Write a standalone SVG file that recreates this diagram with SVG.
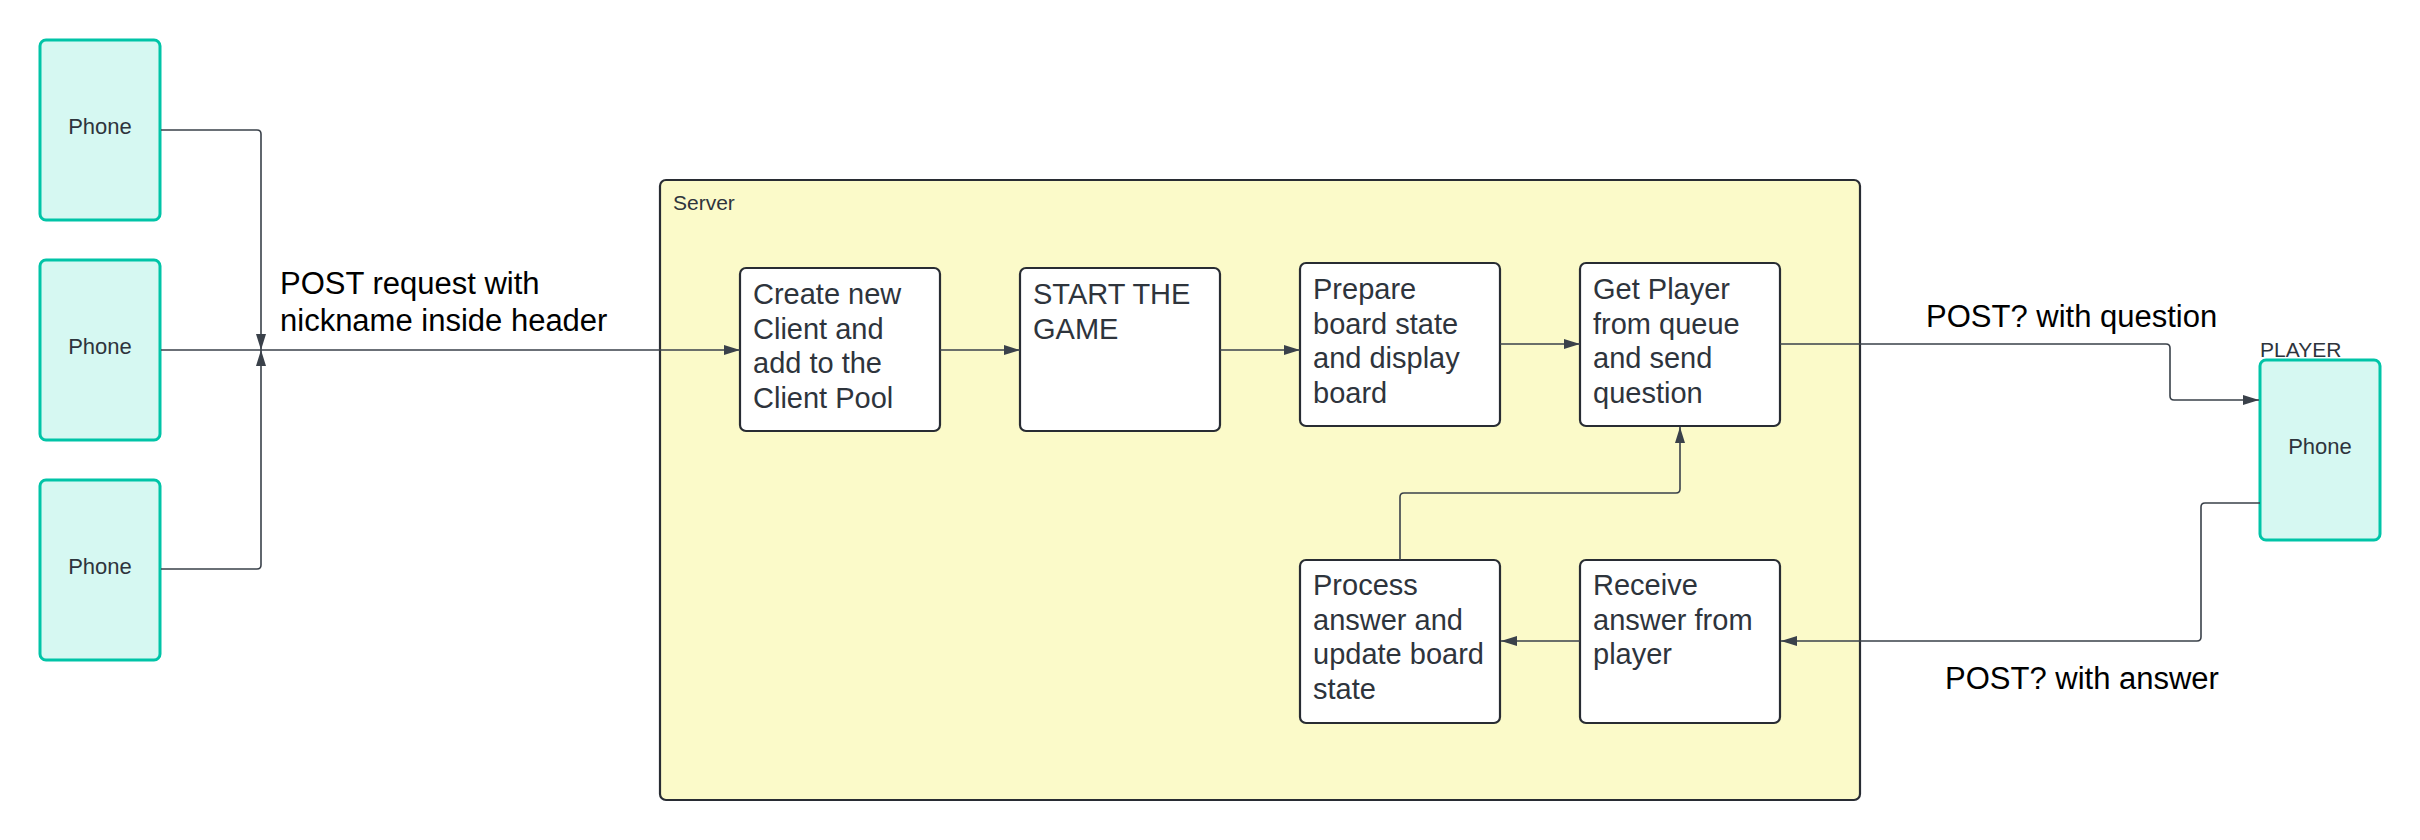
<svg xmlns="http://www.w3.org/2000/svg" width="2420" height="840" viewBox="0 0 2420 840">
<style>
.phone{fill:#d6f8f2;stroke:#00c4a7;stroke-width:3}
.box{fill:#ffffff;stroke:#282c33;stroke-width:2.2}
.server{fill:#fbfac9;stroke:#282c33;stroke-width:2.2}
.ln{fill:none;stroke:#3a414a;stroke-width:1.6}
.t{font-family:"Liberation Sans",Arial,sans-serif;fill:#2e343c}
.pt{font-size:22px;text-anchor:middle}
.bt{font-size:29px}
.lbl{font-family:"Liberation Sans",Arial,sans-serif;font-size:31px;fill:#000}
</style>
<defs>
<marker id="ah" viewBox="0 0 16 10" refX="16" refY="5" markerWidth="16" markerHeight="10" markerUnits="userSpaceOnUse" orient="auto">
<path d="M0,0 L16,5 L0,10 Z" fill="#3a414a"/>
</marker>
</defs>
<rect width="2420" height="840" fill="#ffffff"/>
<g id="server">
<rect class="server" x="660" y="180" width="1200" height="620" rx="6"/>
<text class="t" x="673" y="210" font-size="21">Server</text>
</g>
<g id="phone1">
<rect class="phone" x="40" y="40" width="120" height="180" rx="6"/>
<text class="t pt" x="100" y="134">Phone</text>
</g>
<g id="phone2">
<rect class="phone" x="40" y="260" width="120" height="180" rx="6"/>
<text class="t pt" x="100" y="354">Phone</text>
</g>
<g id="phone3">
<rect class="phone" x="40" y="480" width="120" height="180" rx="6"/>
<text class="t pt" x="100" y="574">Phone</text>
</g>
<g id="player">
<rect class="phone" x="2260" y="360" width="120" height="180" rx="6"/>
<text class="t pt" x="2320" y="454">Phone</text>
<text class="t" x="2260" y="357" font-size="21">PLAYER</text>
</g>
<g id="create">
<rect class="box" x="740" y="268" width="200" height="163" rx="6"/>
<text class="t bt" x="753" y="304"><tspan x="753">Create new</tspan><tspan x="753" dy="34.5">Client and</tspan><tspan x="753" dy="34.5">add to the</tspan><tspan x="753" dy="34.5">Client Pool</tspan></text>
</g>
<g id="start">
<rect class="box" x="1020" y="268" width="200" height="163" rx="6"/>
<text class="t bt" x="1033" y="304"><tspan x="1033">START THE</tspan><tspan x="1033" dy="34.5">GAME</tspan></text>
</g>
<g id="prepare">
<rect class="box" x="1300" y="263" width="200" height="163" rx="6"/>
<text class="t bt" x="1313" y="299"><tspan x="1313">Prepare</tspan><tspan x="1313" dy="34.5">board state</tspan><tspan x="1313" dy="34.5">and display</tspan><tspan x="1313" dy="34.5">board</tspan></text>
</g>
<g id="getplayer">
<rect class="box" x="1580" y="263" width="200" height="163" rx="6"/>
<text class="t bt" x="1593" y="299"><tspan x="1593">Get Player</tspan><tspan x="1593" dy="34.5">from queue</tspan><tspan x="1593" dy="34.5">and send</tspan><tspan x="1593" dy="34.5">question</tspan></text>
</g>
<g id="process">
<rect class="box" x="1300" y="560" width="200" height="163" rx="6"/>
<text class="t bt" x="1313" y="595"><tspan x="1313">Process</tspan><tspan x="1313" dy="34.5">answer and</tspan><tspan x="1313" dy="34.5">update board</tspan><tspan x="1313" dy="34.5">state</tspan></text>
</g>
<g id="receive">
<rect class="box" x="1580" y="560" width="200" height="163" rx="6"/>
<text class="t bt" x="1593" y="595"><tspan x="1593">Receive</tspan><tspan x="1593" dy="34.5">answer from</tspan><tspan x="1593" dy="34.5">player</tspan></text>
</g>
<g id="connectors">
<path class="ln" d="M161,130 H257 Q261,130 261,134 V350" marker-end="url(#ah)"/>
<path class="ln" d="M161,569 H257 Q261,569 261,565 V350" marker-end="url(#ah)"/>
<path class="ln" d="M161,350 H740" marker-end="url(#ah)"/>
<path class="ln" d="M940,350 H1020" marker-end="url(#ah)"/>
<path class="ln" d="M1220,350 H1300" marker-end="url(#ah)"/>
<path class="ln" d="M1500,344 H1580" marker-end="url(#ah)"/>
<path class="ln" d="M1780,344 H2166 Q2170,344 2170,348 V396 Q2170,400 2174,400 H2259" marker-end="url(#ah)"/>
<path class="ln" d="M2260,503 H2205 Q2201,503 2201,507 V637 Q2201,641 2197,641 H1781" marker-end="url(#ah)"/>
<path class="ln" d="M1580,641 H1501" marker-end="url(#ah)"/>
<path class="ln" d="M1400,560 V497 Q1400,493 1404,493 H1676 Q1680,493 1680,489 V427" marker-end="url(#ah)"/>
<text class="lbl" x="280" y="294">POST request with</text>
<text class="lbl" x="280" y="331">nickname inside header</text>
<text class="lbl" x="1926" y="327">POST? with question</text>
<text class="lbl" x="1945" y="689">POST? with answer</text>
</g>
</svg>
